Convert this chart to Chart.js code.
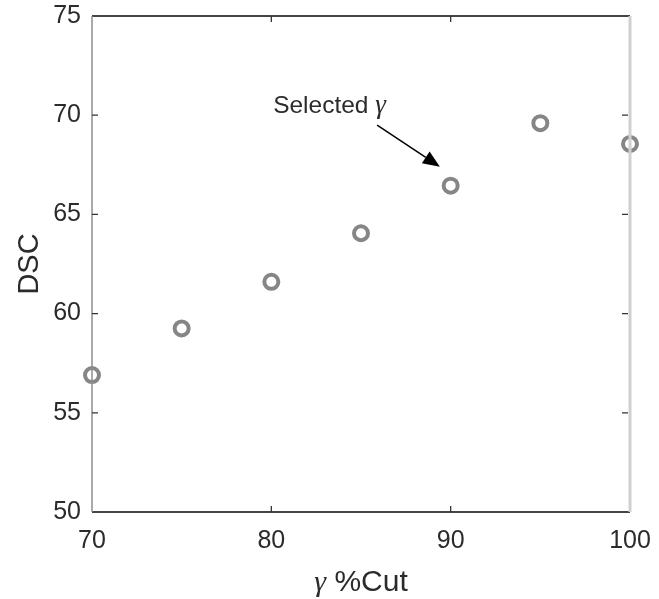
<!DOCTYPE html>
<html>
<head>
<meta charset="utf-8">
<script src="https://cdn.jsdelivr.net/npm/chart.js@4/dist/chart.umd.min.js"></script>
<style>
  html, body { margin: 0; padding: 0; background: #fff; }
  #wrap { width: 659px; height: 599px; }
</style>
</head>
<body>
<div id="wrap"><canvas id="chart"></canvas></div>
<script>
// gamma %Cut values and the DSC
const cutValues = [70, 75, 80, 85, 90, 95, 100];
const dscValues = [56.9, 59.25, 61.6, 64.05, 66.45, 69.6, 68.55];

const xTicks = [70, 80, 90, 100];
const yTicks = [50, 55, 60, 65, 70, 75];

// annotation "Selected γ" in data units
const noteText = 'Selected';
const noteAt = [80.1, 70.1];
const arrowFrom = [85.9, 69.5];
const arrowTo = [89.4, 67.4];

const sans = '"Liberation Sans", Arial, Helvetica, sans-serif';
const serif = '"Liberation Serif", "DejaVu Serif", serif';
const ink = '#2b2b2b';

const framePlugin = {
    id: 'frame',
    afterDatasetsDraw(chart) {
        const ctx = chart.ctx;
        const { left, right, top, bottom } = chart.chartArea;
        const xs = chart.scales.x;
        const ys = chart.scales.y;
        ctx.save();

        // box
        ctx.lineWidth = 1.8;
        ctx.strokeStyle = '#444';
        ctx.beginPath();
        ctx.moveTo(left, top); ctx.lineTo(right, top);
        ctx.moveTo(left, bottom); ctx.lineTo(right, bottom);
        ctx.stroke();
        ctx.strokeStyle = '#8c8c8c';
        ctx.lineWidth = 1.5;
        ctx.beginPath();
        ctx.moveTo(left, top); ctx.lineTo(left, bottom);
        ctx.stroke();
        ctx.strokeStyle = '#d0d0d0';
        ctx.lineWidth = 3;
        ctx.beginPath();
        ctx.moveTo(right, top); ctx.lineTo(right, bottom);
        ctx.stroke();

        // inward ticks
        ctx.strokeStyle = '#333';
        ctx.lineWidth = 1.3;
        const tl = 6;
        ctx.beginPath();
        xTicks.slice(1, -1).forEach(v => {
            const px = xs.getPixelForValue(v);
            ctx.moveTo(px, bottom); ctx.lineTo(px, bottom - tl);
            ctx.moveTo(px, top); ctx.lineTo(px, top + tl);
        });
        yTicks.slice(1, -1).forEach(v => {
            const py = ys.getPixelForValue(v);
            ctx.moveTo(left, py); ctx.lineTo(left + tl, py);
            ctx.moveTo(right - 2, py); ctx.lineTo(right - 2 - tl, py);
        });
        ctx.stroke();

        // axis titles
        ctx.fillStyle = ink;
        ctx.textBaseline = 'alphabetic';
        ctx.font = '30px ' + sans;
        const cutW = ctx.measureText(' %Cut').width;
        ctx.font = 'italic 30px ' + serif;
        const gW = ctx.measureText('γ').width;
        const cx = (left + right) / 2;
        let tx = cx - (cutW + gW) / 2;
        ctx.textAlign = 'left';
        ctx.fillText('γ', tx, 591);
        ctx.font = '30px ' + sans;
        ctx.fillText(' %Cut', tx + gW, 591);

        ctx.save();
        ctx.translate(38, (top + bottom) / 2);
        ctx.rotate(-Math.PI / 2);
        ctx.textAlign = 'center';
        ctx.font = '29px ' + sans;
        ctx.fillText('DSC', 0, 0);
        ctx.restore();

        // annotation text
        const nx = xs.getPixelForValue(noteAt[0]);
        const ny = ys.getPixelForValue(noteAt[1]);
        ctx.font = '24.5px ' + sans;
        ctx.textAlign = 'left';
        const sW = ctx.measureText(noteText + ' ').width;
        ctx.fillText(noteText, nx, ny);
        ctx.font = 'italic 27px ' + serif;
        ctx.fillText('γ', nx + sW, ny);

        // arrow
        const x1 = xs.getPixelForValue(arrowFrom[0]);
        const y1 = ys.getPixelForValue(arrowFrom[1]);
        const x2 = xs.getPixelForValue(arrowTo[0]);
        const y2 = ys.getPixelForValue(arrowTo[1]);
        const ang = Math.atan2(y2 - y1, x2 - x1);
        const hl = 17, hw = 7;
        const bx = x2 - hl * Math.cos(ang);
        const by = y2 - hl * Math.sin(ang);
        ctx.strokeStyle = '#000';
        ctx.lineWidth = 1.5;
        ctx.beginPath();
        ctx.moveTo(x1, y1); ctx.lineTo(bx, by);
        ctx.stroke();
        ctx.fillStyle = '#000';
        ctx.beginPath();
        ctx.moveTo(x2, y2);
        ctx.lineTo(bx + hw * Math.sin(ang), by - hw * Math.cos(ang));
        ctx.lineTo(bx - hw * Math.sin(ang), by + hw * Math.cos(ang));
        ctx.closePath();
        ctx.fill();

        ctx.restore();
    }
};

new Chart(document.getElementById('chart').getContext('2d'), {
    type: 'scatter',
    data: {
        datasets: [{
            data: cutValues.map((c, i) => ({ x: c, y: dscValues[i] })),
            clip: false,
            pointStyle: 'circle',
            pointRadius: 7,
            pointHoverRadius: 7,
            pointBorderWidth: 4,
            pointHoverBorderWidth: 4,
            borderColor: '#868686',
            backgroundColor: 'rgba(0,0,0,0)'
        }]
    },
    options: {
        responsive: true,
        maintainAspectRatio: false,
        animation: false,
        events: [],
        layout: { padding: { top: 16, right: 29, left: 0, bottom: 0 } },
        plugins: { legend: { display: false }, tooltip: { enabled: false } },
        scales: {
            x: {
                type: 'linear',
                min: 70,
                max: 100,
                afterBuildTicks: s => { s.ticks = xTicks.map(v => ({ value: v })); },
                afterFit: s => { s.height = 87; s.paddingLeft = 0; s.paddingRight = 0; },
                grid: { display: false, drawTicks: false },
                border: { display: false },
                ticks: { padding: 14, color: ink, font: { family: sans, size: 25 } }
            },
            y: {
                type: 'linear',
                min: 50,
                max: 75,
                afterBuildTicks: s => { s.ticks = yTicks.map(v => ({ value: v })); },
                afterFit: s => { s.width = 92; s.paddingTop = 0; s.paddingBottom = 0; },
                grid: { display: false, drawTicks: false },
                border: { display: false },
                ticks: { padding: 11, color: ink, font: { family: sans, size: 25 } }
            }
        }
    },
    plugins: [framePlugin]
});
</script>
</body>
</html>
